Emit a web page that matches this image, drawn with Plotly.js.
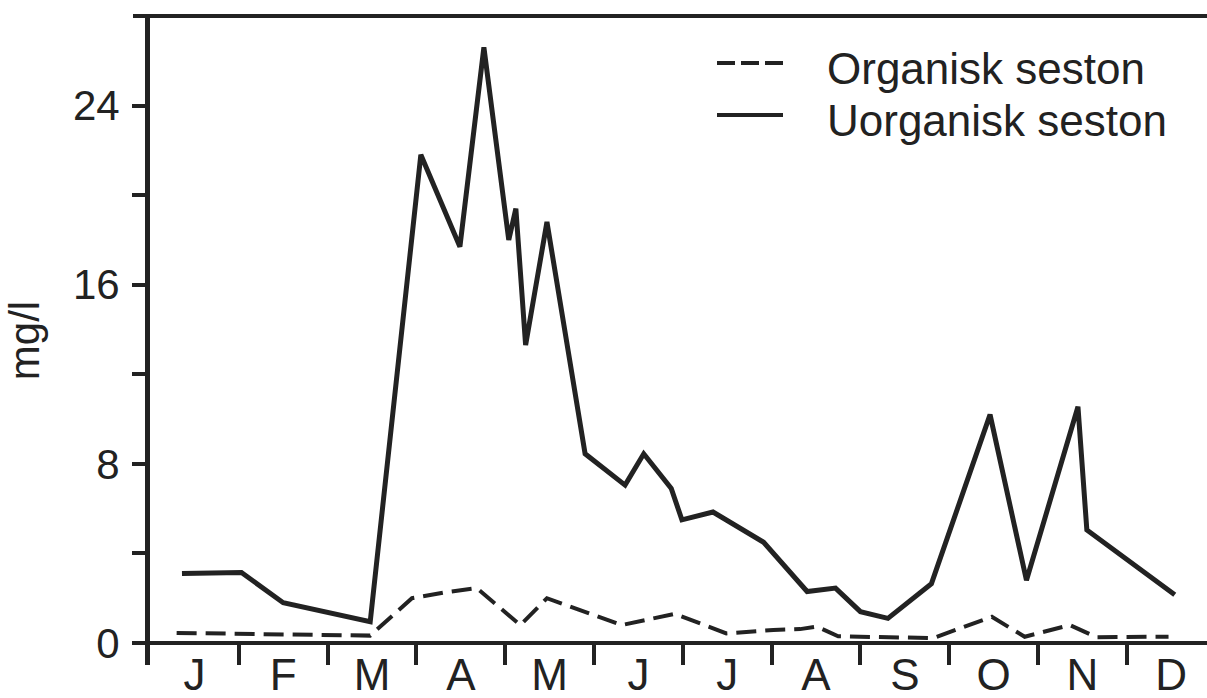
<!DOCTYPE html>
<html>
<head>
<meta charset="utf-8">
<script src="https://cdn.plot.ly/plotly-3.0.1.min.js"></script>
<style>
html,body{margin:0;padding:0;background:#fff;}
#chart{width:1207px;height:698px;}
</style>
</head>
<body>
<div id="chart"></div>
<script>
// Months (x positions are in month units: 0 = 1 Jan, 12 = 31 Dec)
const monthLabels = ["J","F","M","A","M","J","J","A","S","O","N","D"];
const monthCenters = [0.5,1.5,2.5,3.5,4.5,5.5,6.5,7.5,8.5,9.5,10.5,11.5];
const monthBoundaries = [1,2,3,4,5,6,7,8,9,10,11];

// Uorganisk seston (solid)
const inorgDates  = [0.36,1.03,1.50,2.48,3.05,3.49,3.76,4.04,4.12,4.23,4.47,4.90,5.35,5.56,5.87,5.99,6.34,6.91,7.40,7.72,8.00,8.31,8.80,9.46,9.87,10.45,10.55,11.54];
const inorgValues = [3.1,3.15,1.8,0.95,21.8,17.7,26.6,18.0,19.4,13.3,18.8,8.45,7.05,8.45,6.9,5.5,5.85,4.5,2.3,2.45,1.4,1.1,2.65,10.2,2.8,10.55,5.05,2.15];

// Organisk seston (dashed)
const orgDates  = [0.30,1.03,2.48,2.95,3.30,3.68,4.17,4.47,4.90,5.31,5.91,6.49,7.02,7.32,7.51,7.75,8.82,9.48,9.85,10.15,10.36,10.66,11.47];
const orgValues = [0.45,0.40,0.33,2.0,2.25,2.45,0.8,2.0,1.4,0.8,1.3,0.43,0.58,0.62,0.73,0.3,0.22,1.17,0.28,0.6,0.8,0.26,0.28];

const ink = "#222222";
const FONT = "Liberation Sans, Arial, sans-serif";

// plot area geometry helpers (layout only)
const L = 150, R = 0, T = 16, B = 33, W = 1207, H = 698;
const pw = W - L - R, ph = H - T - B;
const px = v => (v - L) / pw;
const py = v => (H - B - v) / ph;

const traces = [
  {
    x: orgDates, y: orgValues, name: "Organisk seston",
    type: "scatter", mode: "lines",
    line: {color: ink, width: 4, dash: "20px,9px"},
    hoverinfo: "x+y"
  },
  {
    x: inorgDates, y: inorgValues, name: "Uorganisk seston",
    type: "scatter", mode: "lines",
    line: {color: ink, width: 5},
    hoverinfo: "x+y"
  }
];

const layout = {
  width: W, height: H,
  margin: {l: L, r: R, t: T, b: B, pad: 0},
  paper_bgcolor: "#fff", plot_bgcolor: "#fff",
  showlegend: false,
  font: {family: FONT, color: ink, size: 44},
  xaxis: {
    range: [0, pw / 88.8],
    tickmode: "array", tickvals: monthCenters, ticktext: monthLabels,
    ticks: "", showline: false, showgrid: false, zeroline: false,
    tickfont: {family: FONT, size: 44, color: ink},
    ticklabelstandoff: -20,
    minor: {tickmode: "array", tickvals: monthBoundaries, ticks: "inside",
            ticklen: 22, tickwidth: 4, tickcolor: ink, showgrid: false},
    fixedrange: true
  },
  yaxis: {
    range: [-(665 - 643) / 22.4, 28],
    tickmode: "array", tickvals: [0, 8, 16, 24], ticktext: ["0","8","16","24"],
    ticks: "outside", ticklen: 13, tickwidth: 4, tickcolor: ink,
    minor: {tickmode: "array", tickvals: [4, 12, 20], ticks: "outside",
            ticklen: 13, tickwidth: 4, tickcolor: ink, showgrid: false},
    showline: true, linewidth: 5, linecolor: ink,
    showgrid: false,
    zeroline: true, zerolinewidth: 3.5, zerolinecolor: ink,
    tickfont: {family: FONT, size: 42, color: ink},
    ticklabelstandoff: 4,
    title: {text: "mg/l", font: {family: FONT, size: 42, color: ink}, standoff: 22},
    fixedrange: true
  },
  shapes: [
    // top frame line
    {type: "line", xref: "paper", yref: "paper", x0: px(133), x1: 1, y0: 1, y1: 1,
     line: {color: ink, width: 4}},
    // legend samples
    {type: "line", xref: "paper", yref: "paper", x0: px(717), x1: px(783), y0: py(63), y1: py(63),
     line: {color: ink, width: 4, dash: "18px,6px"}},
    {type: "line", xref: "paper", yref: "paper", x0: px(717), x1: px(783), y0: py(115), y1: py(115),
     line: {color: ink, width: 4}}
  ],
  annotations: [
    {text: "Organisk seston", xref: "paper", yref: "paper", x: px(825), y: py(68),
     xanchor: "left", yanchor: "middle", showarrow: false,
     font: {family: FONT, size: 44, color: ink}},
    {text: "Uorganisk seston", xref: "paper", yref: "paper", x: px(825), y: py(120),
     xanchor: "left", yanchor: "middle", showarrow: false,
     font: {family: FONT, size: 44, color: ink}}
  ]
};

Plotly.newPlot("chart", traces, layout, {displayModeBar: false, staticPlot: true});
</script>
</body>
</html>
